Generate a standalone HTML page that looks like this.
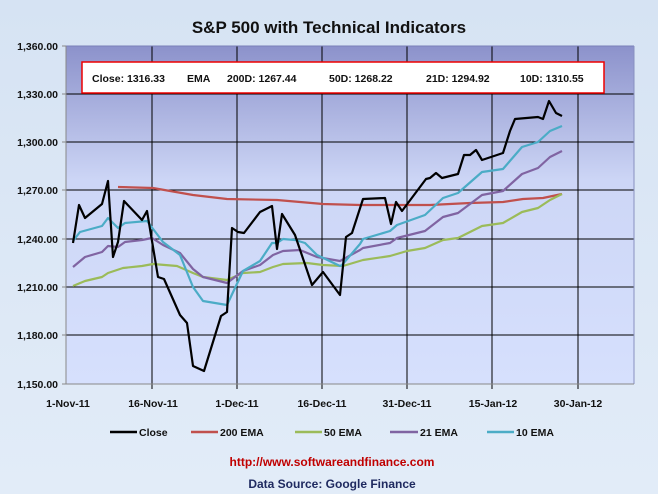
<!DOCTYPE html>
<html><head><style>
body{margin:0;width:658px;height:494px;overflow:hidden;background:#dbe7f6;}
svg{display:block;font-family:"Liberation Sans",Arial,sans-serif;}
</style></head><body>
<svg width="658" height="494" viewBox="0 0 658 494" xmlns="http://www.w3.org/2000/svg">
<defs>
<linearGradient id="bg" x1="0" y1="0" x2="0" y2="1">
<stop offset="0" stop-color="#d6e3f3"/><stop offset="1" stop-color="#e2ecf8"/></linearGradient>
<linearGradient id="pl" x1="0" y1="0" x2="0" y2="1">
<stop offset="0" stop-color="#8c92cb"/><stop offset="0.4" stop-color="#cdd6f6"/><stop offset="1" stop-color="#d6e0fd"/></linearGradient>
</defs>
<rect width="658" height="494" fill="url(#bg)"/>
<text x="329" y="33" font-size="17" font-weight="bold" text-anchor="middle" fill="#111">S&amp;P 500 with Technical Indicators</text>
<rect x="66" y="46" width="568" height="338" fill="url(#pl)"/>
<g stroke="#000" stroke-width="1">
<line x1="66" y1="94" x2="634" y2="94"/><line x1="66" y1="142" x2="634" y2="142"/>
<line x1="66" y1="190" x2="634" y2="190"/><line x1="66" y1="239" x2="634" y2="239"/>
<line x1="66" y1="287" x2="634" y2="287"/><line x1="66" y1="335" x2="634" y2="335"/>
<line x1="152" y1="46" x2="152" y2="389"/><line x1="237" y1="46" x2="237" y2="389"/>
<line x1="322" y1="46" x2="322" y2="389"/><line x1="407" y1="46" x2="407" y2="389"/>
<line x1="492" y1="46" x2="492" y2="389"/><line x1="578" y1="46" x2="578" y2="389"/>
</g>
<line x1="66" y1="46" x2="634" y2="46" stroke="#7a80b8"/>
<line x1="634" y1="46" x2="634" y2="384" stroke="#8890c0"/>
<g stroke="#888"><line x1="66" y1="46" x2="66" y2="384"/><line x1="66" y1="384" x2="634" y2="384"/>
<line x1="62" y1="46" x2="66" y2="46"/><line x1="62" y1="94" x2="66" y2="94"/><line x1="62" y1="142" x2="66" y2="142"/><line x1="62" y1="190" x2="66" y2="190"/><line x1="62" y1="239" x2="66" y2="239"/><line x1="62" y1="287" x2="66" y2="287"/><line x1="62" y1="335" x2="66" y2="335"/><line x1="62" y1="384" x2="66" y2="384"/></g>
<g font-size="10.5" font-weight="bold" text-anchor="end" fill="#111">
<text x="58" y="50">1,360.00</text><text x="58" y="98">1,330.00</text><text x="58" y="146">1,300.00</text>
<text x="58" y="194">1,270.00</text><text x="58" y="243">1,240.00</text><text x="58" y="291">1,210.00</text>
<text x="58" y="339">1,180.00</text><text x="58" y="388">1,150.00</text></g>
<g font-size="10.5" font-weight="bold" text-anchor="middle" fill="#111">
<text x="68" y="407">1-Nov-11</text><text x="153" y="407">16-Nov-11</text><text x="237" y="407">1-Dec-11</text>
<text x="322" y="407">16-Dec-11</text><text x="407" y="407">31-Dec-11</text><text x="493" y="407">15-Jan-12</text><text x="578" y="407">30-Jan-12</text></g>
<g fill="none" stroke-width="2.2" stroke-linejoin="round">
<polyline stroke="#c0504d" points="118,187 153,188 193,195 227,199 277,200 323,204 360,205 430,205 470,203 503,202 523,199 543,198 562,194"/>
<polyline stroke="#9bbb59" points="73,286 85,281 102,277 108,273 123,268 142,266 153,264 177,266 193,273 203,277 227,280 243,273 260,272 273,267 283,264 307,263 323,265 343,266 363,260 390,256 407,251 425,248 443,240 458,238 482,226 503,223 522,212 538,208 550,200 562,194"/>
<polyline stroke="#8064a2" points="73,267 85,257 102,252 108,246 118,247 125,242 142,240 152,238 163,245 180,253 193,269 203,277 227,283 243,271 260,265 273,255 283,251 300,250 317,257 340,261 360,250 363,248 390,243 397,238 425,231 443,217 458,213 482,195 503,191 522,174 538,168 550,157 562,151"/>
<polyline stroke="#4bacc6" points="73,241 80,232 102,226 108,218 118,228 125,223 147,221 163,242 180,255 193,287 203,301 227,305 243,271 260,261 272,243 277,243 283,239 295,240 305,243 317,255 340,266 342,265 360,244 363,239 390,231 397,225 425,215 443,198 458,193 482,172 503,169 522,147 538,142 550,131 562,126"/>
<polyline stroke="#000" points="73,243 79,205 85,218 102,204 108,181 113,257 118,242 124,201 142,220 147,211 158,277 164,279 180,315 187,323 193,366 204,371 221,316 227,312 232,228 238,232 244,233 260,212 272,206 277,249 282,214 295,235 312,285 323,272 340,295 346,237 352,233 363,199 385,198 391,224 396,202 402,211 426,179 430,178 436,173 442,178 458,174 464,155 470,155 476,150 482,160 503,153 510,131 515,119 538,117 543,119 549,101 556,113 562,116"/>
</g>
<rect x="82" y="62" width="522" height="31" fill="#fff" stroke="#e00" stroke-width="1.5"/>
<g font-size="10.5" font-weight="bold" fill="#111">
<text x="92" y="82">Close: 1316.33</text><text x="187" y="82">EMA</text><text x="227" y="82">200D: 1267.44</text>
<text x="329" y="82">50D: 1268.22</text><text x="426" y="82">21D: 1294.92</text><text x="520" y="82">10D: 1310.55</text></g>
<g stroke-width="2.5">
<line x1="110" y1="432" x2="137" y2="432" stroke="#000"/><line x1="191" y1="432" x2="218" y2="432" stroke="#c0504d"/>
<line x1="295" y1="432" x2="322" y2="432" stroke="#9bbb59"/><line x1="390" y1="432" x2="418" y2="432" stroke="#8064a2"/>
<line x1="487" y1="432" x2="514" y2="432" stroke="#4bacc6"/></g>
<g font-size="10.5" font-weight="bold" fill="#111">
<text x="139" y="436">Close</text><text x="220" y="436">200 EMA</text><text x="324" y="436">50 EMA</text>
<text x="420" y="436">21 EMA</text><text x="516" y="436">10 EMA</text></g>
<text x="332" y="466" font-size="12" font-weight="bold" text-anchor="middle" fill="#c00000">http://www.softwareandfinance.com</text>
<text x="332" y="488" font-size="12" font-weight="bold" text-anchor="middle" fill="#1f2a60">Data Source: Google Finance</text>
</svg>
</body></html>
